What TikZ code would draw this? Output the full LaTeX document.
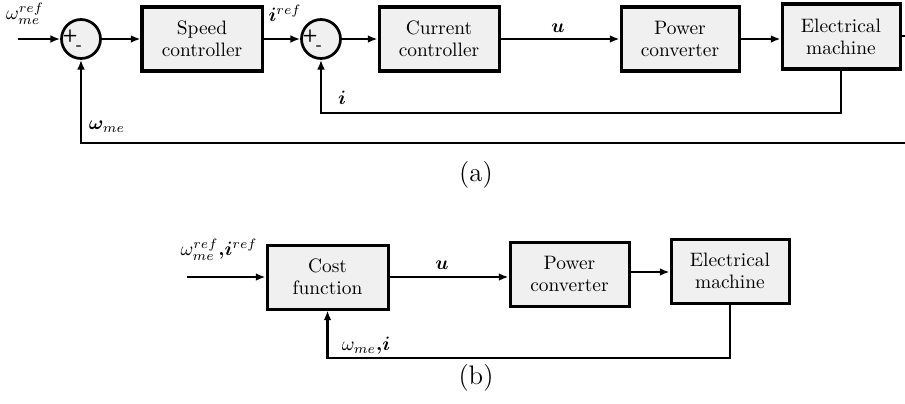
\documentclass[tikz,border=0pt]{standalone}
\usepackage{amsmath}
\usepackage{bm}
\usetikzlibrary{arrows.meta,calc}
\definecolor{boxfill}{HTML}{F0F0F0}
\newcommand{\pxu}{0.515pt}
\tikzset{
  blk/.style={draw=black, line width=1.55pt, fill=boxfill, inner sep=0pt, align=center,
    font=\fontsize{10}{11.3}\selectfont},
  sumc/.style={draw=black, line width=1.4pt, fill=boxfill, circle, minimum size=39*\pxu, inner sep=0pt},
  conn/.style={line width=1.2pt},
  arr/.style={line width=1.2pt, -{Latex[length=5pt,width=4pt]}},
  lbl/.style={font=\fontsize{10}{11.3}\selectfont, inner sep=0pt},
  sgn/.style={font=\sffamily\bfseries\fontsize{9}{9}\selectfont, inner sep=0pt},
  captxt/.style={font=\fontfamily{ptm}\fontsize{13.8}{16}\selectfont, inner sep=0pt}
}
\begin{document}
\begin{tikzpicture}[x=\pxu,y=-\pxu]
\useasboundingbox (0,0) rectangle (905,403);
% ---------- panel (a)
\coordinate (ina) at (18,39);
\node[sumc] (s1) at (81,39) {};
\node[sgn] (p1) at (70,36) {+};
\node[sgn] (m1) at (79,48) {-};
\node[blk, minimum width=120*\pxu, minimum height=64*\pxu] (sc) at (202,39) {Speed\\controller};
\node[sumc] (s2) at (321,39) {};
\node[sgn] (p2) at (310,36) {+};
\node[sgn] (m2) at (319,48) {-};
\node[blk, minimum width=120*\pxu, minimum height=64*\pxu] (cc) at (439,39) {Current\\controller};
\node[blk, minimum width=118*\pxu, minimum height=64*\pxu] (pc) at (680,39) {Power\\converter};
\node[blk, minimum width=118*\pxu, minimum height=65*\pxu] (em) at (841,36.5) {Electrical\\machine};
\coordinate (outa) at (905,36);
\coordinate (fia) at (0,113);
\coordinate (fwa) at (905,143);

\node[lbl] (lwr) at (25,14) {$\omega_{me}^{ref}$};
\node[lbl] (lir) at (285,13) {$\bm{i}^{ref}$};
\node[lbl] (lu) at (558,28) {$\bm{u}$};
\node[lbl] (li) at (342,98) {$\bm{i}$};
\node[lbl] (lw) at (107,127) {$\bm{\omega}_{me}$};

\draw[arr] (ina) -- (s1.west);
\draw[arr] (s1.east) -- (sc.west);
\draw[arr] (sc.east) -- (s2.west);
\draw[arr] (s2.east) -- (cc.west);
\draw[arr] (cc.east) -- (cc.east -| pc.west);
\draw[arr] (pc.east) -- (pc.east -| em.west);
\draw[conn] (em.east |- outa) -- (outa);
\draw[arr] (em.south) |- (fia -| s2) -- (s2.south);
\draw[arr] (fwa) -| (s1.south);

\node[captxt] (capa) at (476,175) {(a)};

% ---------- panel (b)
\coordinate (inb) at (187,277);
\node[blk, minimum width=121*\pxu, minimum height=64*\pxu] (cf) at (327.5,277) {Cost\\function};
\node[blk, minimum width=119*\pxu, minimum height=64*\pxu] (pcb) at (569.5,274) {Power\\converter};
\node[blk, minimum width=118*\pxu, minimum height=64*\pxu] (emb) at (730,271) {Electrical\\machine};
\coordinate (fb) at (0,358);

\node[lbl] (lrefb) at (219,250) {$\omega_{me}^{ref}{\bm{,}}\bm{i}^{ref}$};
\node[lbl] (lub) at (442,265) {$\bm{u}$};
\node[lbl] (lfb) at (366,346) {$\omega_{me}{\bm{,}}\bm{i}$};

\draw[arr] (inb) -- (cf.west);
\draw[arr] (cf.east) -- (cf.east -| pcb.west);
\draw[arr] (pcb.east |- 0,272) -- (emb.west |- 0,272);
\draw[arr] (emb.south) |- (fb -| cf) -- (cf.south);

\node[captxt] (capb) at (476,378) {(b)};
\end{tikzpicture}
\end{document}
